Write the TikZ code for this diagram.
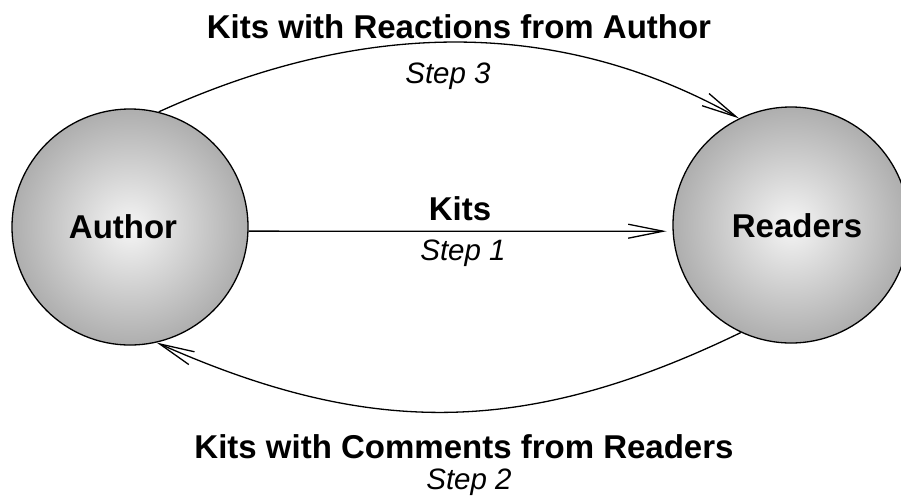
\documentclass[tikz,border=0pt]{standalone}
\usepackage{fontspec}
\setmainfont{Liberation Sans}
\usetikzlibrary{arrows.meta}
\definecolor{ballin}{RGB}{245,245,245}
\definecolor{ballout}{RGB}{174,174,174}
\begin{document}
\begin{tikzpicture}[x=1pt,y=-1pt,
  ball/.style={circle, draw=black, line width=1.3pt, minimum size=236pt, inner sep=0pt,
    shading=radial, inner color=ballin, outer color=ballout},
  boldlabel/.style={anchor=base, inner sep=0pt, font=\fontsize{33}{39}\selectfont\bfseries},
  steplabel/.style={anchor=base, inner sep=0pt, font=\fontsize{29.5}{35}\selectfont\itshape},
  flow/.style={line width=1.3pt, -{Straight Barb[length=35pt,width=14pt,line width=1.3pt]}}
]
\useasboundingbox (0,0) rectangle (901,499);
\node[ball] (A) at (130,227) {};
\node[ball] (R) at (791,225) {};
\node[boldlabel] (At) at (123,238) {Author};
\node[boldlabel] (Rt) at (797,237) {Readers};
% straight arrow
\draw[flow, shorten >=6pt] (A.-2) -- (R.183);
\node[boldlabel] (k1) at (460,220) {Kits};
\node[steplabel] (s1) at (463,260) {Step 1};
% top arc
\draw[flow] (A.76.4) .. controls (365,18) and (560,18) .. (R.116.6);
\node[boldlabel] (k3) at (459,38) {Kits with Reactions from Author};
\node[steplabel] (s3) at (448,83) {Step 3};
% bottom arc
\draw[flow] (R.245.6) .. controls (525,437) and (369,437) .. (A.283.8);
\node[boldlabel] (k2) at (464,458) {Kits with Comments from Readers};
\node[steplabel] (s2) at (469,489) {Step 2};
\end{tikzpicture}
\end{document}
